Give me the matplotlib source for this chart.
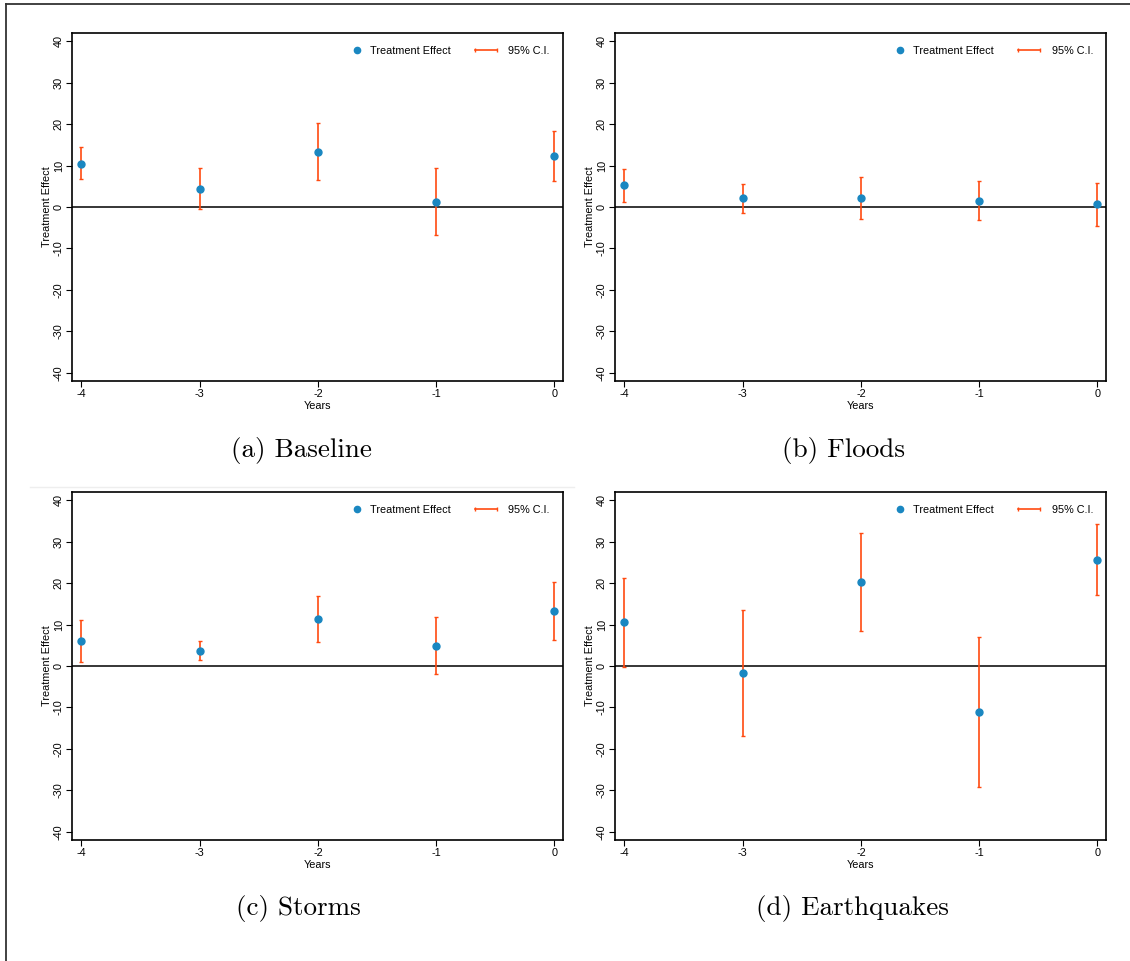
import matplotlib
matplotlib.use("Agg")
import matplotlib.pyplot as plt
from matplotlib.lines import Line2D
from matplotlib.legend_handler import HandlerLine2D

years = [-4, -3, -2, -1, 0]

baseline_est = [10.5, 4.4, 13.3, 1.3, 12.2]
baseline_lo = [6.8, -0.6, 6.5, -6.7, 6.3]
baseline_hi = [14.4, 9.4, 20.2, 9.4, 18.4]

floods_est = [5.3, 2.1, 2.2, 1.5, 0.7]
floods_lo = [1.3, -1.4, -3.0, -3.2, -4.5]
floods_hi = [9.2, 5.6, 7.3, 6.2, 5.9]

storms_est = [6.0, 3.7, 11.3, 4.9, 13.2]
storms_lo = [1.0, 1.5, 5.8, -1.9, 6.2]
storms_hi = [11.1, 6.0, 16.9, 11.8, 20.2]

quakes_est = [10.6, -1.8, 20.2, -11.1, 25.6]
quakes_lo = [-0.2, -16.9, 8.5, -29.1, 17.1]
quakes_hi = [21.3, 13.5, 32.1, 6.9, 34.3]

captions = ["(a) Baseline", "(b) Floods", "(c) Storms", "(d) Earthquakes"]
yticks = [-40, -30, -20, -10, 0, 10, 20, 30, 40]

BLUE = "#1a87c1"
ORANGE = "#ff4a10"
SANS = "Liberation Sans"
FS = 7.8

W, H = 1130, 961
fig = plt.figure(figsize=(W / 100, H / 100), dpi=100)
fig.patch.set_facecolor("white")


class RightMarkerHandler(HandlerLine2D):
    # single marker placed near the right end of the handle box
    def get_xdata(self, legend, xdescent, ydescent, width, height, fontsize):
        xdata = [-xdescent + 0.7 * width, -xdescent + width]
        return xdata, [-xdescent + 0.85 * width]


def box(left, top, right, bottom):
    return [left / W, 1 - bottom / H, (right - left) / W, (bottom - top) / H]


rects = [box(72, 33, 563, 381), box(615, 33, 1106, 381),
         box(72, 492, 563, 840), box(615, 492, 1106, 840)]
cap_pos = [(301, 450), (844, 450), (298, 909), (852, 909)]
data = [(baseline_est, baseline_lo, baseline_hi),
        (floods_est, floods_lo, floods_hi),
        (storms_est, storms_lo, storms_hi),
        (quakes_est, quakes_lo, quakes_hi)]

for rect, (est, lo, hi), cap, (cx, cy) in zip(rects, data, captions, cap_pos):
    ax = fig.add_axes(rect)
    ax.axhline(0, color="black", lw=1.1, zorder=1)
    yerr = [[e - l for e, l in zip(est, lo)], [h - e for e, h in zip(est, hi)]]
    ax.errorbar(years, est, yerr=yerr, fmt="none", ecolor=ORANGE,
                elinewidth=1.2, capsize=1.2, capthick=1.0, zorder=2)
    ax.plot(years, est, "o", color=BLUE, markersize=5, zorder=3)
    ax.set_xlim(-4.08, 0.074)
    ax.set_ylim(-42, 42)
    ax.set_yticks(yticks)
    ax.set_xticks(years)
    ax.set_xticklabels([str(y) for y in years], fontsize=FS, family=SANS)
    ax.set_yticklabels([str(y) for y in yticks], fontsize=FS, family=SANS,
                       rotation=90, va="center")
    ax.tick_params(direction="out", length=4, width=0.8, pad=2)
    for s in ax.spines.values():
        s.set_linewidth(1.2)
        s.set_color("black")
    ax.set_xlabel("Years", fontsize=FS, family=SANS, labelpad=1)
    ax.set_ylabel("Treatment Effect", fontsize=FS, family=SANS, labelpad=1)

    h1 = Line2D([0], [0], ls="none", marker="o", color=BLUE, markersize=4.5)
    h2 = Line2D([0], [0], color=ORANGE, lw=1.2, marker="|", markersize=2.5)
    ax.legend([h1, h2], ["Treatment Effect", "95% C.I."],
              handler_map={h1: RightMarkerHandler(numpoints=1),
                           h2: HandlerLine2D(numpoints=2)},
              loc="upper right", ncol=2, frameon=False,
              prop={"family": SANS, "size": FS},
              handlelength=2.6, columnspacing=2.0, handletextpad=0.75,
              borderaxespad=0.8)

    fig.text(cx / W, 1 - cy / H, cap, fontsize=19.5, family="cmr10",
             ha="center", va="center")

# page border lines
fig.add_artist(Line2D([6 / W, 6 / W], [0, 1 - 3.5 / H], color="#333333",
                      lw=1.3, transform=fig.transFigure))
fig.add_artist(Line2D([6 / W, 1], [1 - 3.5 / H, 1 - 3.5 / H], color="#333333",
                      lw=1.3, transform=fig.transFigure))
fig.add_artist(Line2D([30 / W, 574 / W], [1 - 487 / H, 1 - 487 / H],
                      color="#eeeeee", lw=1.0, transform=fig.transFigure))

fig.savefig("out.png", dpi=100)
